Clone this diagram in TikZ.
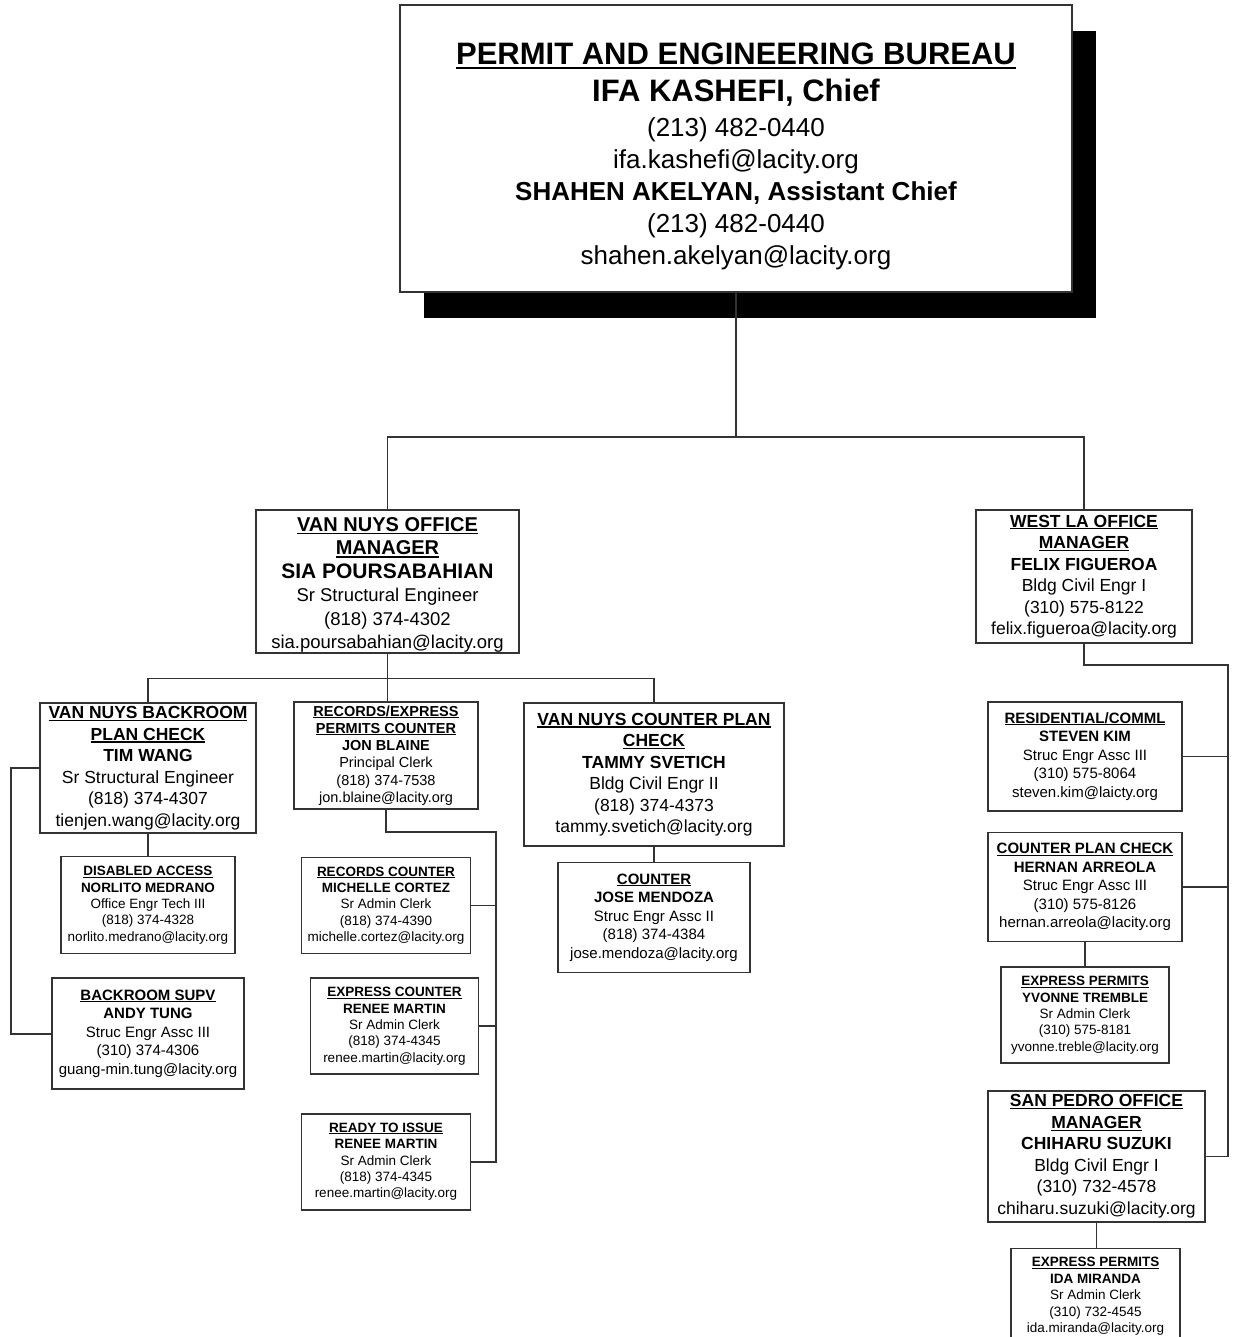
\documentclass[tikz,border=0pt]{standalone}
\usepackage{fontspec}
\setmainfont{Liberation Sans}
\usepackage{tikz}
\usetikzlibrary{positioning}
\usetikzlibrary{shadows}

\newcommand{\hd}[1]{\setbox0\hbox{\bfseries #1}\rlap{\rule[-0.14em]{\wd0}{0.07em}}\box0}
\newcommand{\nm}[1]{\textbf{#1}}

\tikzset{
  box/.style={draw=black!80, line width=1.6pt, fill=white, align=center, inner sep=0pt},
  big/.style={box, font=\fontsize{17.5}{21.5}\selectfont},
  mid/.style={box, font=\fontsize{15}{18.5}\selectfont},
  small/.style={box, font=\fontsize{13.5}{16.4}\selectfont},
  link/.style={draw=black!80, line width=1.6pt}
}

\begin{document}
\begin{tikzpicture}[x=1pt,y=-1pt]
    \useasboundingbox (0,0) rectangle (1232,1337);

    \node[box, minimum width=672pt, minimum height=287pt,
          drop shadow={shadow xshift=24pt, shadow yshift=-26pt, fill=black, opacity=1},
          font=\fontsize{26}{32}\selectfont] (top) at (736,148.5)
      {\rule{0pt}{38pt}{\fontsize{31}{32}\selectfont\hd{PERMIT AND ENGINEERING BUREAU}}\\[5pt]
       {\fontsize{31}{32}\selectfont\bfseries IFA KASHEFI, Chief}\\[3pt]
       (213) 482-0440\\ ifa.kashefi@lacity.org\\
       \nm{SHAHEN AKELYAN, Assistant Chief}\\
       (213) 482-0440\\ shahen.akelyan@lacity.org};

    \node[box, minimum width=263pt, minimum height=143pt,
          font=\fontsize{18.5}{23.5}\selectfont] (vn) at (387.5,581.5)
      {\rule{0pt}{21pt}{\fontsize{20}{23.5}\selectfont\hd{VAN NUYS OFFICE}}\\
       {\fontsize{20}{23.5}\selectfont\hd{MANAGER}}\\
       {\fontsize{21}{23.5}\selectfont\bfseries SIA POURSABAHIAN}\\
       Sr Structural Engineer\\ (818) 374-4302\\ sia.poursabahian@lacity.org};
    \node[big, minimum width=216pt, minimum height=133pt] (wla) at (1084,576.5)
      {\hd{WEST LA OFFICE}\\ \hd{MANAGER}\\ \nm{FELIX FIGUEROA}\\
       Bldg Civil Engr I\\ (310) 575-8122\\ felix.figueroa@lacity.org};

    \node[big, minimum width=216pt, minimum height=130pt] (bk) at (148,768)
      {\hd{VAN NUYS BACKROOM}\\ \hd{PLAN CHECK}\\ \nm{TIM WANG}\\
       Sr Structural Engineer\\ (818) 374-4307\\ tienjen.wang@lacity.org};
    \node[small, minimum width=184pt, minimum height=107pt,
          font=\fontsize{14.5}{17.2}\selectfont] (rx) at (386,755.5)
      {\hd{RECORDS/EXPRESS}\\ \hd{PERMITS COUNTER}\\ \nm{JON BLAINE}\\
       Principal Clerk\\ (818) 374-7538\\ jon.blaine@lacity.org};
    \node[big, minimum width=260pt, minimum height=143pt] (vc) at (654,774.5)
      {\hd{VAN NUYS COUNTER PLAN}\\ \hd{CHECK}\\ \nm{TAMMY SVETICH}\\
       Bldg Civil Engr II\\ (818) 374-4373\\ tammy.svetich@lacity.org};

    \node[small, minimum width=174pt, minimum height=97pt] (da) [below=22pt of bk]
      {\hd{DISABLED ACCESS}\\ \nm{NORLITO MEDRANO}\\
       Office Engr Tech III\\ (818) 374-4328\\ norlito.medrano@lacity.org};
    \node[mid, minimum width=192pt, minimum height=111pt] (bs) [below=23pt of da]
      {\hd{BACKROOM SUPV}\\ \nm{ANDY TUNG}\\
       Struc Engr Assc III\\ (310) 374-4306\\ guang-min.tung@lacity.org};

    \node[small, minimum width=169pt, minimum height=96pt] (rc) [below=47pt of rx]
      {\hd{RECORDS COUNTER}\\ \nm{MICHELLE CORTEZ}\\
       Sr Admin Clerk\\ (818) 374-4390\\ michelle.cortez@lacity.org};
    \node[small, minimum width=168pt, minimum height=96pt] (ec) [below=23pt of rc, xshift=8.5pt]
      {\hd{EXPRESS COUNTER}\\ \nm{RENEE MARTIN}\\
       Sr Admin Clerk\\ (818) 374-4345\\ renee.martin@lacity.org};
    \node[small, minimum width=169pt, minimum height=96pt] (ri) [below=38pt of ec, xshift=-8.5pt]
      {\hd{READY TO ISSUE}\\ \nm{RENEE MARTIN}\\
       Sr Admin Clerk\\ (818) 374-4345\\ renee.martin@lacity.org};

    \node[mid, minimum width=192pt, minimum height=110pt] (mj) [below=15pt of vc]
      {\hd{COUNTER}\\ \nm{JOSE MENDOZA}\\
       Struc Engr Assc II\\ (818) 374-4384\\ jose.mendoza@lacity.org};

    \node[mid, minimum width=194pt, minimum height=109pt] (rk) at (1085,756.5)
      {\hd{RESIDENTIAL/COMML}\\ \nm{STEVEN KIM}\\
       Struc Engr Assc III\\ (310) 575-8064\\ steven.kim@laicty.org};
    \node[mid, minimum width=194pt, minimum height=109pt] (cp) [below=20pt of rk]
      {\hd{COUNTER PLAN CHECK}\\ \nm{HERNAN ARREOLA}\\
       Struc Engr Assc III\\ (310) 575-8126\\ hernan.arreola@lacity.org};
    \node[small, minimum width=168pt, minimum height=96pt] (yt) [below=24pt of cp]
      {\hd{EXPRESS PERMITS}\\ \nm{YVONNE TREMBLE}\\
       Sr Admin Clerk\\ (310) 575-8181\\ yvonne.treble@lacity.org};
    \node[big, minimum width=217pt, minimum height=131pt] (sp) [below=26pt of yt, xshift=11.5pt]
      {\hd{SAN PEDRO OFFICE}\\ \hd{MANAGER}\\ \nm{CHIHARU SUZUKI}\\
       Bldg Civil Engr I\\ (310) 732-4578\\ chiharu.suzuki@lacity.org};
    \node[small, minimum width=169pt, minimum height=96pt] (im) [below=25pt of sp, xshift=-1pt]
      {\hd{EXPRESS PERMITS}\\ \nm{IDA MIRANDA}\\
       Sr Admin Clerk\\ (310) 732-4545\\ ida.miranda@lacity.org};

    % connectors
    \coordinate (jt) at (736,437);
    \draw[link] (top.south) -- (jt);
    \draw[link] (vn.north) |- (jt) -| (wla.north);

    \draw[link] (vn.south) -- ++(0,24.5) coordinate (jv);
    \draw[link] (bk.north) |- (jv) -| (vc.north);
    \draw[link] (jv) -- (jv |- rx.north);

    \draw[link] (bk.south) -- (da.north);
    \draw[link] (bk.west) -- ++(-28,0) |- (bs.west);
    \draw[link] (vc.south) -- (mj.north);

    \coordinate (rxr) at (496,832);
    \draw[link] (rx.south) |- (rxr) |- (ri.east);
    \draw[link] (rc.east) -- (rc.east -| rxr);
    \draw[link] (ec.east) -- (ec.east -| rxr);

    \coordinate (wr) at (1228,665);
    \draw[link] (wla.south) |- (wr) |- (sp.east);
    \draw[link] (rk.east) -- (rk.east -| wr);
    \draw[link] (cp.east) -- (cp.east -| wr);
    \draw[link] (cp.south) -- (yt.north);
    \draw[link] (sp.south) -- (sp.south |- im.north);
\end{tikzpicture}
\end{document}
